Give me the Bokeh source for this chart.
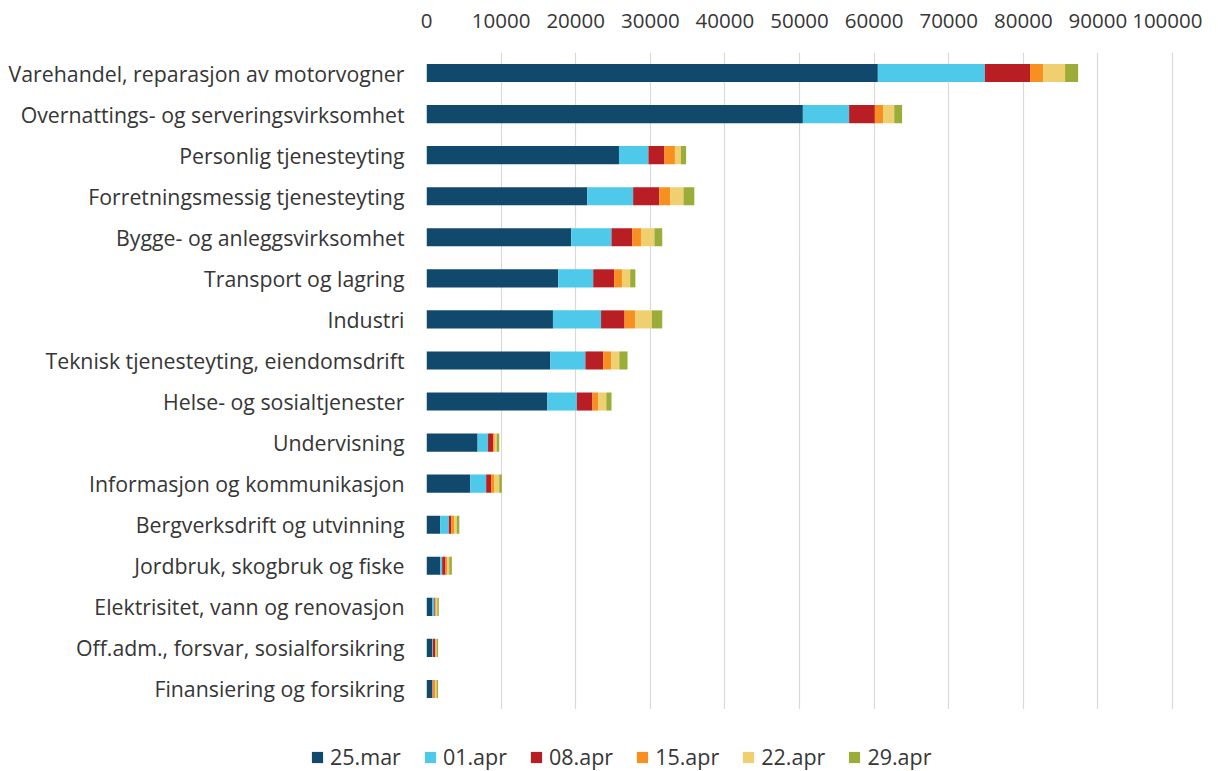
from bokeh.plotting import figure
from bokeh.layouts import column
from bokeh.models import (ColumnDataSource, FactorRange, Range1d, Legend, LegendItem,
                          FixedTicker, NumeralTickFormatter)
from bokeh.embed import file_html
from bokeh.resources import INLINE

categories = [
    "Varehandel, reparasjon av motorvogner",
    "Overnattings- og serveringsvirksomhet",
    "Personlig tjenesteyting",
    "Forretningsmessig tjenesteyting",
    "Bygge- og anleggsvirksomhet",
    "Transport og lagring",
    "Industri",
    "Teknisk tjenesteyting, eiendomsdrift",
    "Helse- og sosialtjenester",
    "Undervisning",
    "Informasjon og kommunikasjon",
    "Bergverksdrift og utvinning",
    "Jordbruk, skogbruk og fiske",
    "Elektrisitet, vann og renovasjon",
    "Off.adm., forsvar, sosialforsikring",
    "Finansiering og forsikring",
]

series_names = ["25.mar", "01.apr", "08.apr", "15.apr", "22.apr", "29.apr"]

mar25 = [60500, 50450, 25800, 21550, 19400, 17650, 16950, 16600, 16200, 6850, 5850, 1850, 1850, 800, 750, 750]
apr01 = [14350, 6200, 3950, 6150, 5400, 4700, 6450, 4700, 3950, 1400, 2150, 1150, 250, 250, 100, 50]
apr08 = [6050, 3450, 2150, 3500, 2800, 2800, 3150, 2400, 2100, 700, 650, 300, 450, 100, 300, 50]
apr15 = [1750, 1100, 1400, 1450, 1150, 1050, 1450, 1050, 750, 200, 400, 400, 250, 100, 100, 300]
apr22 = [2950, 1500, 800, 1800, 1800, 1100, 2200, 1100, 1100, 250, 700, 350, 250, 200, 100, 200]
apr29 = [1750, 1050, 700, 1450, 1050, 700, 1400, 1100, 700, 350, 350, 350, 350, 200, 200, 200]

x_ticks = [0, 10000, 20000, 30000, 40000, 50000, 60000, 70000, 80000, 90000, 100000]

colors = ["#11496c", "#4ec9ea", "#b91e24", "#f79020", "#efcf6f", "#9bac39"]

source = ColumnDataSource(data=dict(
    cat=categories,
    s0=mar25, s1=apr01, s2=apr08, s3=apr15, s4=apr22, s5=apr29,
))
keys = ["s0", "s1", "s2", "s3", "s4", "s5"]

FONT = "Open Sans"
TXT = "#363636"

p = figure(width=1202, height=709,
           y_range=FactorRange(factors=categories[::-1]),
           x_range=Range1d(0, 100400),
           x_axis_location="above",
           output_backend="svg", toolbar_location=None,
           min_border_left=426, min_border_right=27,
           min_border_top=52, min_border_bottom=0)
p.frame_align = False

p.hbar_stack(keys, y="cat", height=0.44, color=colors,
             line_color=None, source=source)

p.xaxis.ticker = FixedTicker(ticks=x_ticks)
p.xaxis.formatter = NumeralTickFormatter(format="0")
for ax in [p.xaxis[0], p.yaxis[0]]:
    ax.axis_line_color = None
    ax.major_tick_line_color = None
    ax.minor_tick_line_color = None
    ax.major_tick_in = 0
    ax.major_tick_out = 0
    ax.minor_tick_out = 0
    ax.major_label_text_font = FONT
    ax.major_label_text_color = TXT

p.xaxis.major_label_text_font_size = "20.5px"
p.yaxis.major_label_text_font_size = "21.3px"
p.xaxis.major_label_standoff = 25
p.yaxis.major_label_standoff = 22

p.xgrid.grid_line_color = "#d9d9d9"
p.xgrid.grid_line_width = 1.2
p.ygrid.grid_line_color = None
p.outline_line_color = None

# legend strip: a second figure whose bars lie outside its visible range
lg = figure(width=1202, height=62,
            y_range=FactorRange(factors=categories),
            x_range=Range1d(-2, -1),
            x_axis_location=None, y_axis_location=None,
            output_backend="svg", toolbar_location=None,
            min_border_left=0, min_border_right=0,
            min_border_top=0, min_border_bottom=0)
lg.frame_align = False
lg.grid.visible = False
lg.outline_line_color = None
lrend = lg.hbar_stack(keys, y="cat", height=0.44, color=colors,
                      line_color=None, source=source)

items = [LegendItem(label=n, renderers=[r]) for n, r in zip(series_names, lrend)]
legend = Legend(items=items, orientation="horizontal", location=(310, 0),
                glyph_width=14, glyph_height=14, label_standoff=6, spacing=22,
                padding=0, margin=0, border_line_color=None,
                label_text_font=FONT, label_text_font_size="21.5px",
                label_text_color=TXT, background_fill_alpha=0)
lg.add_layout(legend, "center")

layout = column(p, lg, spacing=0)

open("out.html", "w").write(file_html(layout, INLINE))
